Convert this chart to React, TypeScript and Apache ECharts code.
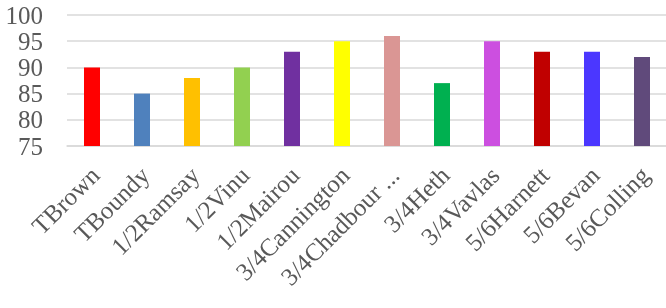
import React, { useEffect, useRef } from "react";
import * as echarts from "echarts";

const categories = [
  "TBrown", "TBoundy", "1/2Ramsay", "1/2Vinu", "1/2Mairou", "3/4Cannington",
  "3/4Chadbour ...", "3/4Heth", "3/4Vavlas", "5/6Harnett", "5/6Bevan", "5/6Colling",
];
const values = [90, 85, 88, 90, 93, 95, 96, 87, 95, 93, 93, 92];
const colors = [
  "#FF0000", "#4F81BD", "#FFC000", "#92D050", "#7030A0", "#FFFF00",
  "#DA9694", "#00B050", "#CC4FE0", "#C00000", "#4B37FF", "#604A7B",
];
const yTicks = { min: 75, max: 100, interval: 5 };

const FONT = "'Liberation Serif', serif";

export default function App() {
  const ref = useRef<HTMLDivElement>(null);
  useEffect(() => {
    if (!ref.current) return;
    const chart = echarts.init(ref.current, null, { renderer: "svg" });
    chart.setOption({
      animation: false,
      grid: [
        { left: 67, right: -1, top: 15, bottom: 162, outerBoundsMode: "none", containLabel: false },
        { left: 70, right: -4, top: 15, bottom: 162, outerBoundsMode: "none", containLabel: false },
      ],
      xAxis: [
        {
          type: "category",
          gridIndex: 0,
          data: categories,
          axisLine: { show: true, lineStyle: { color: "#d9d9d9", width: 1.5 } },
          axisTick: { show: false },
          axisLabel: { show: false },
        },
        {
          type: "category",
          gridIndex: 1,
          data: categories,
          axisLine: { show: false },
          axisTick: { show: false },
          axisLabel: {
            interval: 0,
            rotate: 45,
            margin: 25,
            fontFamily: FONT,
            fontSize: 25,
            color: "#595959",
            hideOverlap: false,
          },
        },
      ],
      yAxis: [
        {
          type: "value",
          gridIndex: 0,
          ...yTicks,
          axisLine: { show: false },
          axisTick: { show: false },
          splitLine: { lineStyle: { color: "#d9d9d9", width: 1.5 } },
          axisLabel: {
            margin: 24,
            fontFamily: FONT,
            fontSize: 25,
            color: "#595959",
          },
        },
        {
          type: "value",
          gridIndex: 1,
          ...yTicks,
          show: false,
        },
      ],
      series: [
        {
          type: "bar",
          xAxisIndex: 0,
          yAxisIndex: 0,
          data: values.map((v, i) => ({ value: v, itemStyle: { color: colors[i] } })),
          barWidth: 16,
        },
      ],
    });
    return () => chart.dispose();
  }, []);
  return (
    <div
      ref={ref}
      style={{ position: "fixed", left: 0, top: 0, width: 666, height: 308 }}
    />
  );
}
